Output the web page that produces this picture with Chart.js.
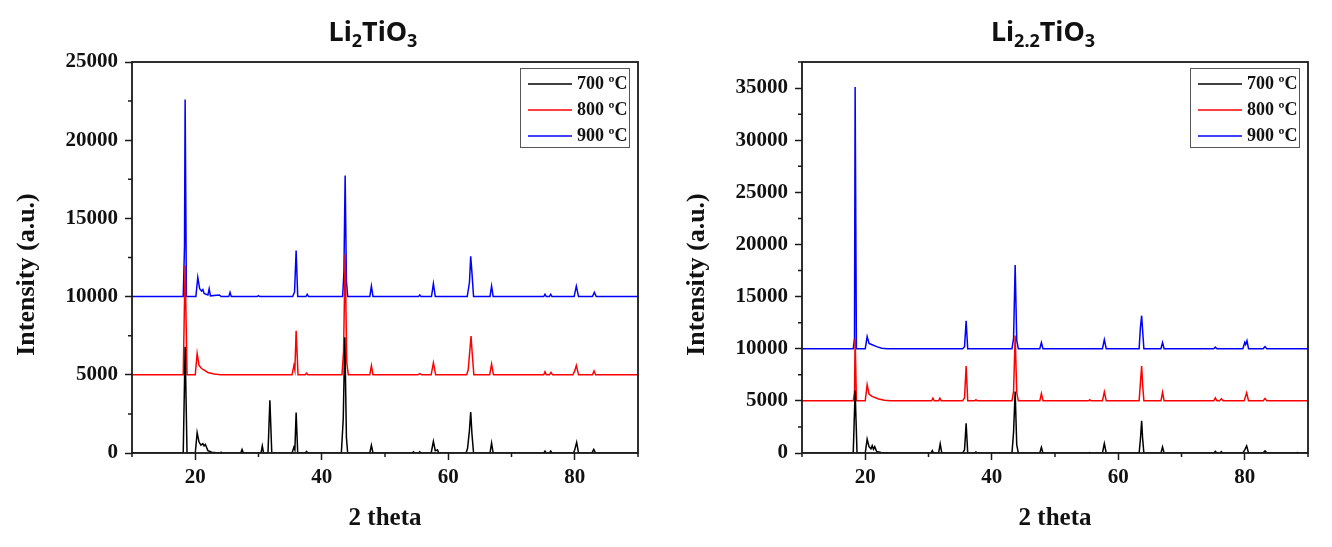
<!DOCTYPE html>
<html>
<head>
<meta charset="utf-8">
<title>XRD patterns of Li2TiO3 and Li2.2TiO3</title>
<script src="https://cdn.jsdelivr.net/npm/chart.js@4.4.1/dist/chart.umd.min.js"></script>
<style>
    html, body { margin: 0; padding: 0; background: #fff; }
    .wrap { display: flex; width: 1332px; height: 547px; }
    canvas { display: block; }
</style>
</head>
<body>
<div class="wrap">
    <canvas id="chartLi2" width="666" height="547"></canvas>
    <canvas id="chartLi22" width="666" height="547"></canvas>
</div>
<script>
// calcination temperatures and how far each pattern is shifted up
const tempLabels = ['700 ºC', '800 ºC', '900 ºC'];
const tempColors = ['#000000', '#ff0000', '#0000ff'];
const stackOffsets = [0, 5000, 10000];

// panel titles, [text, isSubscript]
const titleLi2 = [['Li', false], ['2', true], ['TiO', false], ['3', true]];
const titleLi22 = [['Li', false], ['2.2', true], ['TiO', false], ['3', true]];

// Li2TiO3, [2theta, intensity]
const li2_700 = [[10,0],[18.1,0],[18.4,6800],[18.7,0],[20.0,0],[20.3,1300],[20.6,700],[20.9,500],[21.2,600],[21.4,450],[21.6,550],[22.0,150],[22.6,50],[23.8,0],[24.1,50],[24.4,0],
    [27.2,0],[27.4,230],[27.6,0],[30.4,0],[30.6,450],[30.8,0],[31.5,0],[31.8,3370],[32.1,0],[35.3,0],[35.6,380],[35.75,200],[35.95,2580],[36.2,0],
    [37.4,0],[37.6,100],[37.8,0],[43.1,0],[43.4,2200],[43.65,7400],[43.9,1000],[44.1,0],[47.6,0],[47.85,490],[48.1,0],[54.3,0],[54.5,80],[54.7,0],
    [55.3,0],[55.5,80],[55.7,0],[57.3,0],[57.65,745],[57.95,150],[58.3,200],[58.5,0],[62.8,0],[63.05,280],[63.35,1450],[63.55,2620],[63.75,1200],[64.0,0],
    [66.6,0],[66.85,640],[67.1,0],[75.1,0],[75.3,120],[75.5,0],[76.0,0],[76.2,120],[76.4,0],[79.8,0],[80.0,200],[80.3,680],[80.6,0],
    [82.7,0],[83.0,230],[83.3,0],[90,0]];
const li2_800 = [[10,0],[18.1,0],[18.4,7000],[18.7,0],[20.0,0],[20.3,1360],[20.6,600],[21.0,400],[22.0,150],[23.0,50],[24,0],
    [35.3,0],[35.6,600],[35.75,300],[35.95,2810],[36.25,0],[37.4,0],[37.6,100],[37.8,0],[43.2,0],[43.45,1500],[43.7,7700],[43.95,800],[44.2,0],
    [47.6,0],[47.85,580],[48.1,0],[55.2,0],[55.5,80],[55.8,0],[57.3,0],[57.65,760],[58.0,0],[62.9,0],[63.15,300],[63.4,1500],[63.6,2480],[63.8,1300],[64.05,0],
    [66.55,0],[66.85,690],[67.15,0],[75.1,0],[75.3,200],[75.5,0],[76.0,0],[76.25,150],[76.5,0],[79.7,0],[80.0,250],[80.25,600],[80.6,0],
    [82.8,0],[83.05,250],[83.3,0],[90,0]];
const li2_900 = [[10,0],[18.1,0],[18.3,3200],[18.4,12600],[18.6,0],[20.1,0],[20.4,1230],[20.7,500],[21.0,350],[21.2,450],[21.4,200],[22.0,100],[22.2,500],[22.4,50],
    [23.8,100],[24.1,0],[25.3,0],[25.5,270],[25.7,0],[29.8,0],[30.0,60],[30.2,0],[35.4,0],[35.7,300],[35.95,2950],[36.2,0],[37.5,0],[37.7,150],[37.9,0],
    [43.3,0],[43.5,1500],[43.7,7750],[43.9,1000],[44.1,0],[47.6,0],[47.85,670],[48.1,0],[55.3,0],[55.5,100],[55.7,0],[57.35,0],[57.65,830],[57.95,0],
    [63.0,0],[63.35,900],[63.55,2570],[63.75,1500],[64.0,0],[66.6,0],[66.85,670],[67.1,0],[75.1,0],[75.3,150],[75.5,0],[76.0,0],[76.2,150],[76.4,0],
    [79.9,0],[80.25,670],[80.6,0],[82.8,0],[83.1,270],[83.4,0],[90,0]];

// Li2.2TiO3
const li22_700 = [[10,0],[18.1,0],[18.4,6000],[18.7,0],[20.0,0],[20.3,1320],[20.6,600],[20.9,400],[21.1,700],[21.3,350],[21.5,610],[21.8,150],[22.5,60],[24,0],
    [30.4,0],[30.6,230],[30.8,0],[31.6,0],[31.85,870],[32.1,0],[35.4,0],[35.7,300],[35.95,2840],[36.2,0],[37.3,0],[37.5,100],[37.7,0],
    [43.2,0],[43.45,2000],[43.7,5900],[43.95,800],[44.2,0],[47.6,0],[47.85,550],[48.1,0],[55.3,0],[55.5,50],[55.7,0],[57.5,0],[57.8,900],[58.1,0],
    [63.3,0],[63.5,1300],[63.7,3100],[63.85,1400],[64.05,0],[66.75,0],[67.0,580],[67.25,0],[75.1,0],[75.35,160],[75.6,0],[76.1,0],[76.3,130],[76.5,0],
    [79.7,0],[80.0,300],[80.3,680],[80.6,0],[82.9,0],[83.2,200],[83.5,0],[88.1,0],[88.3,50],[88.5,0],[90,0]];
const li22_800 = [[10,0],[18.1,0],[18.3,800],[18.4,6000],[18.6,0],[20.0,0],[20.3,1550],[20.6,650],[21.0,450],[22.0,200],[23.0,50],[24,0],
    [30.5,0],[30.7,260],[30.9,0],[31.6,0],[31.8,260],[32.0,0],[35.4,0],[35.7,300],[35.95,3330],[36.2,0],[37.3,0],[37.5,100],[37.7,0],
    [43.2,0],[43.45,900],[43.7,6270],[43.95,800],[44.2,0],[47.6,0],[47.85,700],[48.1,0],[55.3,0],[55.5,100],[55.7,0],[57.5,0],[57.8,870],[58.1,0],
    [63.3,0],[63.5,1700],[63.7,3330],[63.85,1600],[64.05,0],[66.75,0],[67.0,810],[67.25,0],[75.1,0],[75.35,290],[75.6,0],[76.0,0],[76.3,200],[76.6,0],
    [79.9,0],[80.3,780],[80.6,0],[82.9,0],[83.2,230],[83.5,0],[90,0]];
const li22_900 = [[10,0],[18.1,0],[18.3,1000],[18.4,25100],[18.6,0],[20.0,0],[20.3,1170],[20.6,500],[21.0,400],[21.8,200],[22.6,50],[23.5,0],
    [35.4,0],[35.7,200],[35.95,2670],[36.2,0],[43.2,0],[43.45,1000],[43.7,8030],[43.95,800],[44.2,0],[47.6,0],[47.85,600],[48.1,0],
    [57.5,0],[57.8,870],[58.1,0],[63.3,0],[63.5,2000],[63.7,3170],[63.85,1800],[64.05,0],[66.75,0],[67.0,600],[67.25,0],[75.1,0],[75.35,150],[75.6,0],
    [79.7,0],[80.0,600],[80.15,400],[80.35,770],[80.6,0],[82.9,0],[83.2,200],[83.5,0],[90,0]];

const axisColor = '#1a1a1a';
const serif = '"Liberation Serif", "Times New Roman", serif';

// frame, minor ticks, legend box, y label and the sub-scripted title
const decorations = {
    id: 'decorations',
    afterDraw(chart, args, opts) {
        const { ctx, chartArea: a, scales: { x, y } } = chart;
        ctx.save();

        ctx.strokeStyle = axisColor;
        ctx.lineWidth = 1.5;
        ctx.beginPath();
        x.ticks.forEach(t => {
            if (t.value % 20 !== 0) {
                const px = x.getPixelForValue(t.value);
                ctx.moveTo(px, a.bottom);
                ctx.lineTo(px, a.bottom + 4);
            }
        });
        y.ticks.forEach(t => {
            if (t.value % 5000 !== 0) {
                const py = y.getPixelForValue(t.value);
                ctx.moveTo(a.left, py);
                ctx.lineTo(a.left - 4, py);
            }
        });
        ctx.stroke();

        ctx.lineWidth = 1.8;
        ctx.strokeRect(a.left, a.top, a.right - a.left, a.bottom - a.top);

        // legend
        const bw = 109, bh = 79;
        const bx = Math.round(a.right - 9 - bw), by = Math.round(a.top + 6);
        ctx.lineWidth = 1;
        ctx.strokeStyle = '#555';
        ctx.strokeRect(bx + 0.5, by + 0.5, bw, bh);
        ctx.font = 'bold 18px ' + serif;
        ctx.textAlign = 'left';
        ctx.textBaseline = 'middle';
        chart.data.datasets.forEach((ds, i) => {
            const ly = by + 16 + i * 26;
            ctx.strokeStyle = ds.borderColor;
            ctx.lineWidth = 1.5;
            ctx.beginPath();
            ctx.moveTo(bx + 8, ly);
            ctx.lineTo(bx + 52, ly);
            ctx.stroke();
            ctx.fillStyle = '#111';
            ctx.fillText(ds.label, bx + 57, ly);
        });

        // y axis label
        ctx.save();
        ctx.translate(a.left - 105, (a.top + a.bottom) / 2 + 17);
        ctx.rotate(-Math.PI / 2);
        ctx.font = 'bold 26px ' + serif;
        ctx.textAlign = 'center';
        ctx.fillStyle = '#111';
        ctx.fillText('Intensity (a.u.)', 0, 0);
        ctx.restore();

        // title with subscripts
        const big = 'bold 27px "Noto Sans", sans-serif';
        const small = 'bold 18px "Noto Sans", sans-serif';
        let total = 0;
        opts.parts.forEach(([txt, sub]) => {
            ctx.font = sub ? small : big;
            total += ctx.measureText(txt).width;
        });
        let tx = (a.left + a.right) / 2 - 12 - total / 2;
        ctx.textBaseline = 'alphabetic';
        ctx.fillStyle = '#111';
        opts.parts.forEach(([txt, sub]) => {
            ctx.font = sub ? small : big;
            ctx.fillText(txt, tx, sub ? 47 : 41);
            tx += ctx.measureText(txt).width;
        });

        ctx.restore();
    }
};

function makeChart(canvasId, titleParts, series, yMax, yAxisWidth, padRight) {
    const canvas = document.getElementById(canvasId);
    return new Chart(canvas.getContext('2d'), {
        type: 'line',
        data: {
            datasets: series.map((pts, i) => ({
                label: tempLabels[i],
                data: pts.map(([t, v]) => ({ x: t, y: v + stackOffsets[i] })),
                borderColor: tempColors[i],
                borderWidth: 1.5,
                pointRadius: 0,
                tension: 0,
                fill: false
            }))
        },
        options: {
            responsive: false,
            animation: false,
            devicePixelRatio: 1,
            layout: { padding: { top: 62, right: padRight, left: 0, bottom: 0 } },
            plugins: {
                legend: { display: false },
                tooltip: { enabled: false },
                decorations: { parts: titleParts }
            },
            scales: {
                x: {
                    type: 'linear',
                    min: 10,
                    max: 90,
                    border: { display: false },
                    grid: {
                        drawOnChartArea: false,
                        tickLength: 7,
                        tickWidth: 1.5,
                        tickColor: ctx => (ctx.tick && ctx.tick.value % 20 === 0) ? axisColor : 'rgba(0,0,0,0)'
                    },
                    ticks: {
                        stepSize: 10,
                        autoSkip: false,
                        maxRotation: 0,
                        padding: 5,
                        color: '#111',
                        font: { family: serif, size: 21, weight: 'bold' },
                        callback: v => (v % 20 === 0 ? String(v) : '')
                    },
                    title: {
                        display: true,
                        text: '2 theta',
                        color: '#111',
                        padding: { bottom: 13 },
                        font: { family: serif, size: 25, weight: 'bold' }
                    },
                    afterFit: scale => { scale.height = 94; }
                },
                y: {
                    min: 0,
                    max: yMax,
                    border: { display: false },
                    grid: {
                        drawOnChartArea: false,
                        tickLength: 7,
                        tickWidth: 1.5,
                        tickColor: ctx => (ctx.tick && ctx.tick.value % 5000 === 0) ? axisColor : 'rgba(0,0,0,0)'
                    },
                    ticks: {
                        stepSize: 2500,
                        autoSkip: false,
                        padding: 7,
                        color: '#111',
                        font: { family: serif, size: 21, weight: 'bold' },
                        callback: v => (v % 5000 === 0 ? String(v) : '')
                    },
                    afterFit: scale => { scale.width = yAxisWidth; }
                }
            }
        },
        plugins: [decorations]
    });
}

makeChart('chartLi2', titleLi2, [li2_700, li2_800, li2_900], 25000, 132, 28);
makeChart('chartLi22', titleLi22, [li22_700, li22_800, li22_900], 37500, 136, 24);
</script>
</body>
</html>
